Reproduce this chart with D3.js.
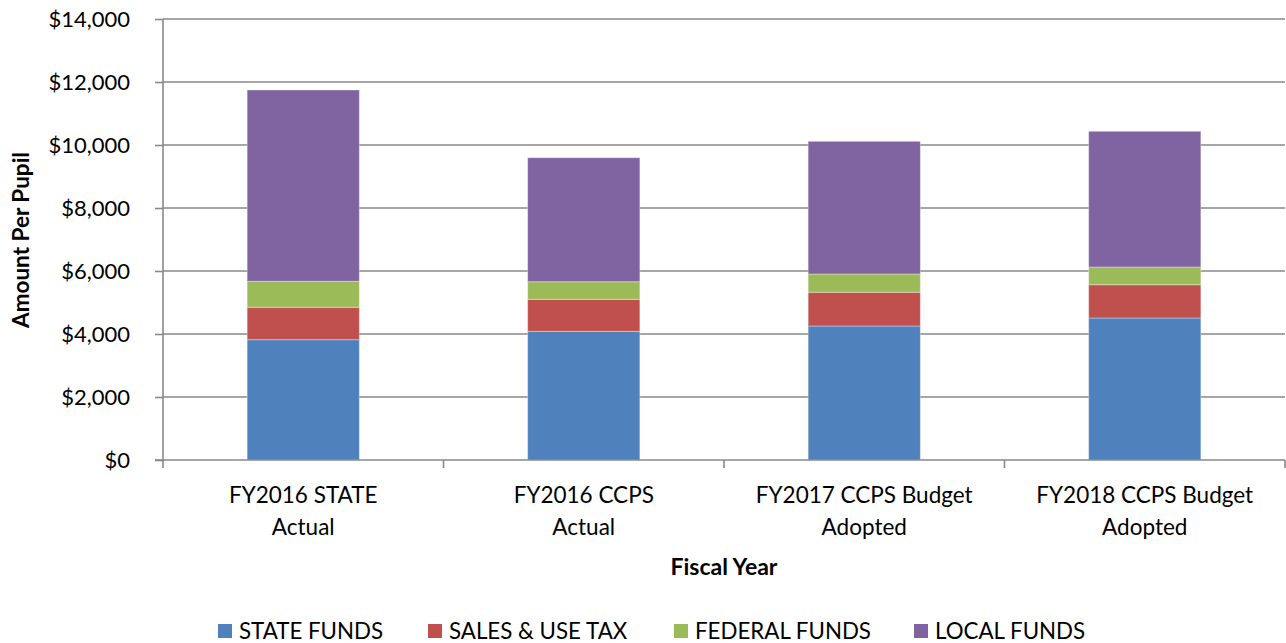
<!DOCTYPE html>
<html>
<head>
<meta charset="utf-8">
<script src="https://cdn.jsdelivr.net/npm/d3@7"></script>
<style>
  html, body { margin: 0; padding: 0; background: #fff; }
  svg { display: block; font-family: Lato, "Open Sans", sans-serif; }
</style>
</head>
<body>
<svg id="chart" width="1286" height="643"></svg>
<script>
// ---- data ----
const categories = [
  ["FY2016 STATE", "Actual"],
  ["FY2016 CCPS", "Actual"],
  ["FY2017 CCPS Budget", "Adopted"],
  ["FY2018 CCPS Budget", "Adopted"]
];
const seriesNames = ["STATE FUNDS", "SALES & USE TAX", "FEDERAL FUNDS", "LOCAL FUNDS"];
const stateFunds   = [3820, 4085, 4254, 4508];
const salesUseTax  = [1028, 1016, 1070, 1057];
const federalFunds = [ 825,  559,  581,  562];
const localFunds   = [6073, 3937, 4212, 4308];
const yTicks = [0, 2000, 4000, 6000, 8000, 10000, 12000, 14000];
const colors = ["#4F81BD", "#C0504D", "#9BBB59", "#8064A2"];

(function () {
const FONT = "Lato, 'Open Sans', sans-serif";
// ---- build table ----
const keys = seriesNames;
const table = categories.map((c, i) => ({
  cat: c.join(" "),
  lines: c,
  [keys[0]]: stateFunds[i],
  [keys[1]]: salesUseTax[i],
  [keys[2]]: federalFunds[i],
  [keys[3]]: localFunds[i]
}));
const stacked = d3.stack().keys(keys)(table);

const svg = d3.select("#chart");
const pLeft = 163, pRight = 1285, pTop = 19, pBottom = 460;

const x = d3.scaleBand().domain(table.map(d => d.cat)).range([pLeft, pRight]).padding(0);
const y = d3.scaleLinear().domain([0, 14000]).range([pBottom, pTop]);
const barW = x.bandwidth() * 0.4;

const gridColor = "#898989";

// gridlines
svg.append("g").selectAll("line").data(yTicks.filter(t => t > 0)).join("line")
  .attr("x1", pLeft).attr("x2", pRight)
  .attr("y1", d => y(d)).attr("y2", d => y(d))
  .attr("stroke", gridColor).attr("stroke-width", 1.6);

// bars
svg.append("g").selectAll("g").data(stacked).join("g")
  .attr("fill", (d, i) => colors[i])
  .selectAll("rect").data(d => d).join("rect")
  .attr("x", d => x(d.data.cat) + (x.bandwidth() - barW) / 2)
  .attr("width", barW)
  .attr("y", d => y(d[1]))
  .attr("height", d => y(d[0]) - y(d[1]))
  .attr("stroke", "rgba(255,255,255,0.35)")
  .attr("stroke-width", 1);

// y axis
const yAxis = d3.axisLeft(y).tickValues(yTicks).tickSize(8).tickPadding(25)
  .tickFormat(d => "$" + d3.format(",")(d));
const gy = svg.append("g").attr("transform", `translate(${pLeft},0)`).call(yAxis)
  .attr("font-family", FONT).attr("font-size", 22);
gy.select(".domain").attr("stroke", gridColor).attr("stroke-width", 1.6)
  .attr("d", `M0,${pTop}V${pBottom}`);
gy.selectAll(".tick line").attr("stroke", gridColor).attr("stroke-width", 1.6);
gy.selectAll(".tick text").attr("fill", "#000").attr("dy", "0.36em");

// x axis line and boundary ticks
svg.append("line").attr("x1", pLeft - 8).attr("x2", pRight)
  .attr("y1", pBottom).attr("y2", pBottom)
  .attr("stroke", gridColor).attr("stroke-width", 1.6);
const bounds = [pLeft].concat(table.map(d => x(d.cat) + x.bandwidth()));
svg.append("g").selectAll("line").data(bounds).join("line")
  .attr("x1", d => d).attr("x2", d => d)
  .attr("y1", pBottom).attr("y2", pBottom + 8)
  .attr("stroke", gridColor).attr("stroke-width", 1.6);

// category labels
const cl = svg.append("g").selectAll("text").data(table).join("text")
  .attr("text-anchor", "middle")
  .style("font-size", "22.5px").attr("fill", "#000");
cl.selectAll("tspan").data(d => d.lines.map(l => ({ l, cx: x(d.cat) + x.bandwidth() / 2 })))
  .join("tspan")
  .attr("x", d => d.cx)
  .attr("y", (d, i) => 503 + i * 32)
  .text(d => d.l);

// axis titles
svg.append("text").attr("x", 724).attr("y", 575).attr("text-anchor", "middle")
  .style("font-size", "23px").style("font-weight", "bold").text("Fiscal Year");
svg.append("text").attr("transform", "translate(29,240) rotate(-90)")
  .attr("text-anchor", "middle")
  .style("font-size", "22.5px").style("font-weight", "bold").text("Amount Per Pupil");

// legend
const legendX = [218, 428, 674, 914];
const lg = svg.append("g").selectAll("g").data(keys).join("g")
  .attr("transform", (d, i) => `translate(${legendX[i]},622)`);
lg.append("rect").attr("width", 14).attr("height", 14).attr("y", 2)
  .attr("fill", (d, i) => colors[i]);
lg.append("text").attr("x", 21).attr("y", 17)
  .style("font-size", "22.3px").attr("fill", "#000").text(d => d);
})();
</script>
</body>
</html>
